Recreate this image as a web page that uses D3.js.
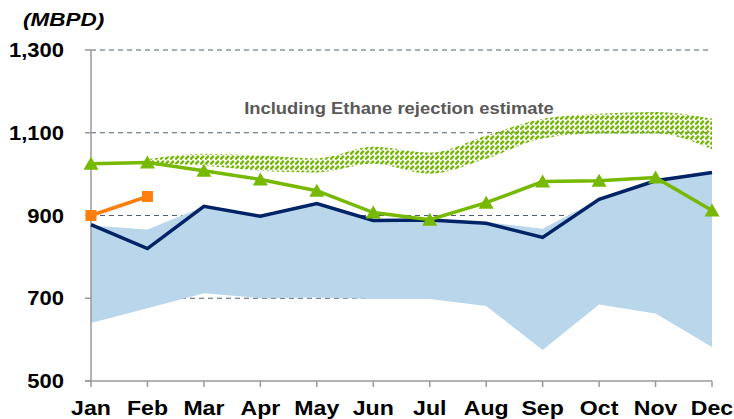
<!DOCTYPE html>
<html>
<head>
<meta charset="utf-8">
<script src="https://cdn.jsdelivr.net/npm/d3@7"></script>
<style>
  body { margin: 0; background: #fff; }
  svg { display: block; font-family: Arial, "Liberation Sans", sans-serif; }
</style>
</head>
<body>
<div id="chart"></div>
<script>
const months = ['Jan', 'Feb', 'Mar', 'Apr', 'May', 'Jun', 'Jul', 'Aug', 'Sep', 'Oct', 'Nov', 'Dec'];
const yTicks = [500, 700, 900, 1100, 1300];

// five-year range (shaded band)
const rangeHigh = [876, 866, 922, 898, 929, 890, 889, 884, 868, 939, 990, 1004];
const rangeLow = [640, 676, 712, 700, 702, 698, 698, 681, 575, 685, 663, 582];
// prior year (navy)
const priorYear = [878, 820, 922, 898, 929, 888, 889, 881, 847, 939, 984, 1004];
// forecast (green triangles)
const forecast = [1025, 1028, 1008, 987, 960, 907, 890, 931, 982, 984, 992, 912];
// actual (orange squares)
const actual = [900, 946];
// ethane rejection estimate band
const ethaneHigh = [null, 1036, 1049, 1045, 1038, 1066, 1052, 1093, 1134, 1146, 1150, 1134];
const ethaneLow = [null, 1026, 1020, 1008, 1004, 1025, 1001, 1037, 1086, 1098, 1098, 1060];

const width = 734, height = 419;
const svg = d3.select('#chart').append('svg')
    .attr('width', width)
    .attr('height', height);

const x = d3.scalePoint().domain(months).range([91, 712]);
const y = d3.scaleLinear().domain([500, 1300]).range([381, 50]);

const defs = svg.append('defs');
const pat = defs.append('pattern')
    .attr('id', 'hatch')
    .attr('patternUnits', 'userSpaceOnUse')
    .attr('width', 5)
    .attr('height', 5);
pat.append('path')
    .attr('d', 'M0.3,4.5 L3.8,0.8')
    .attr('stroke', '#72b800')
    .attr('stroke-width', 2.4)
    .attr('stroke-linecap', 'butt');

// gridlines
svg.append('g').selectAll('line')
    .data(yTicks.filter(d => d > 500))
    .join('line')
    .attr('x1', 91)
    .attr('x2', d => d === 1300 ? 708 : 712)
    .attr('y1', d => y(d))
    .attr('y2', d => y(d))
    .attr('stroke', '#4f5e73')
    .attr('stroke-width', 1)
    .attr('stroke-dasharray', '5,4');

// shaded range band
const band = d3.area()
    .x((d, i) => x(months[i]))
    .y0((d, i) => y(rangeLow[i]))
    .y1(d => y(d));
svg.append('path')
    .datum(rangeHigh)
    .attr('d', band)
    .attr('fill', '#b9d6eb');

// ethane hatch band
const ethane = months.map((m, i) => ({ m, hi: ethaneHigh[i], lo: ethaneLow[i] }))
    .filter(d => d.hi !== null);
svg.append('path')
    .datum(ethane)
    .attr('d', d3.area()
        .curve(d3.curveMonotoneX)
        .x(d => x(d.m))
        .y0(d => y(d.lo))
        .y1(d => y(d.hi)))
    .attr('fill', 'url(#hatch)');

// axes
const axisColor = '#999';
svg.append('line')
    .attr('x1', 91).attr('x2', 91)
    .attr('y1', 50).attr('y2', 381)
    .attr('stroke', axisColor).attr('stroke-width', 1.5);
svg.append('g').selectAll('line')
    .data(yTicks)
    .join('line')
    .attr('x1', 85).attr('x2', 91)
    .attr('y1', d => y(d)).attr('y2', d => y(d))
    .attr('stroke', axisColor).attr('stroke-width', 1.5);
svg.append('line')
    .attr('x1', 85).attr('x2', 712)
    .attr('y1', 381).attr('y2', 381)
    .attr('stroke', axisColor).attr('stroke-width', 1.5);
svg.append('g').selectAll('line')
    .data(months)
    .join('line')
    .attr('x1', d => x(d)).attr('x2', d => x(d))
    .attr('y1', 381).attr('y2', 387)
    .attr('stroke', axisColor).attr('stroke-width', 1.5);

// text is a little wider in the original, so stretch it horizontally
function stretched(sel, tx, ty, sx) {
    return sel.attr('transform', (d, i) => `translate(${tx(d, i)},${ty(d, i)}) scale(${sx},1)`);
}

// tick labels
svg.append('g').selectAll('text')
    .data(yTicks)
    .join('text')
    .call(stretched, () => 64, d => y(d) + 7, 1.1)
    .attr('text-anchor', 'end')
    .attr('font-size', 20)
    .attr('font-weight', 'bold')
    .attr('fill', '#000')
    .text(d3.format(','));
svg.append('g').selectAll('text')
    .data(months)
    .join('text')
    .call(stretched, d => x(d), () => 415, 1.1)
    .attr('text-anchor', 'middle')
    .attr('font-size', 21)
    .attr('font-weight', 'bold')
    .attr('fill', '#000')
    .text(d => d);

svg.append('text')
    .call(stretched, () => 23, () => 26, 1.25)
    .attr('font-size', 18)
    .attr('font-weight', 'bold')
    .attr('font-style', 'italic')
    .text('(MBPD)');

svg.append('text')
    .call(stretched, () => 399, () => 114, 1.15)
    .attr('text-anchor', 'middle')
    .attr('font-size', 16)
    .attr('font-weight', 'bold')
    .attr('fill', '#595959')
    .text('Including Ethane rejection estimate');

// lines
const line = d3.line().x((d, i) => x(months[i])).y(d => y(d));

svg.append('path')
    .datum(priorYear)
    .attr('d', line)
    .attr('fill', 'none')
    .attr('stroke', '#002366')
    .attr('stroke-width', 3.5);

svg.append('path')
    .datum(forecast)
    .attr('d', line)
    .attr('fill', 'none')
    .attr('stroke', '#76b900')
    .attr('stroke-width', 3.5);

svg.append('g').selectAll('path')
    .data(forecast)
    .join('path')
    .attr('transform', (d, i) => `translate(${x(months[i])},${y(d)})`)
    .attr('d', 'M0,-7 L7.5,6 L-7.5,6 Z')
    .attr('fill', '#76b900');

svg.append('path')
    .datum(actual)
    .attr('d', line)
    .attr('fill', 'none')
    .attr('stroke', '#ff7f0e')
    .attr('stroke-width', 3.5);

svg.append('g').selectAll('rect')
    .data(actual)
    .join('rect')
    .attr('x', (d, i) => x(months[i]) - 5.5)
    .attr('y', d => y(d) - 5.5)
    .attr('width', 11)
    .attr('height', 11)
    .attr('fill', '#ff7f0e');
</script>
</body>
</html>
